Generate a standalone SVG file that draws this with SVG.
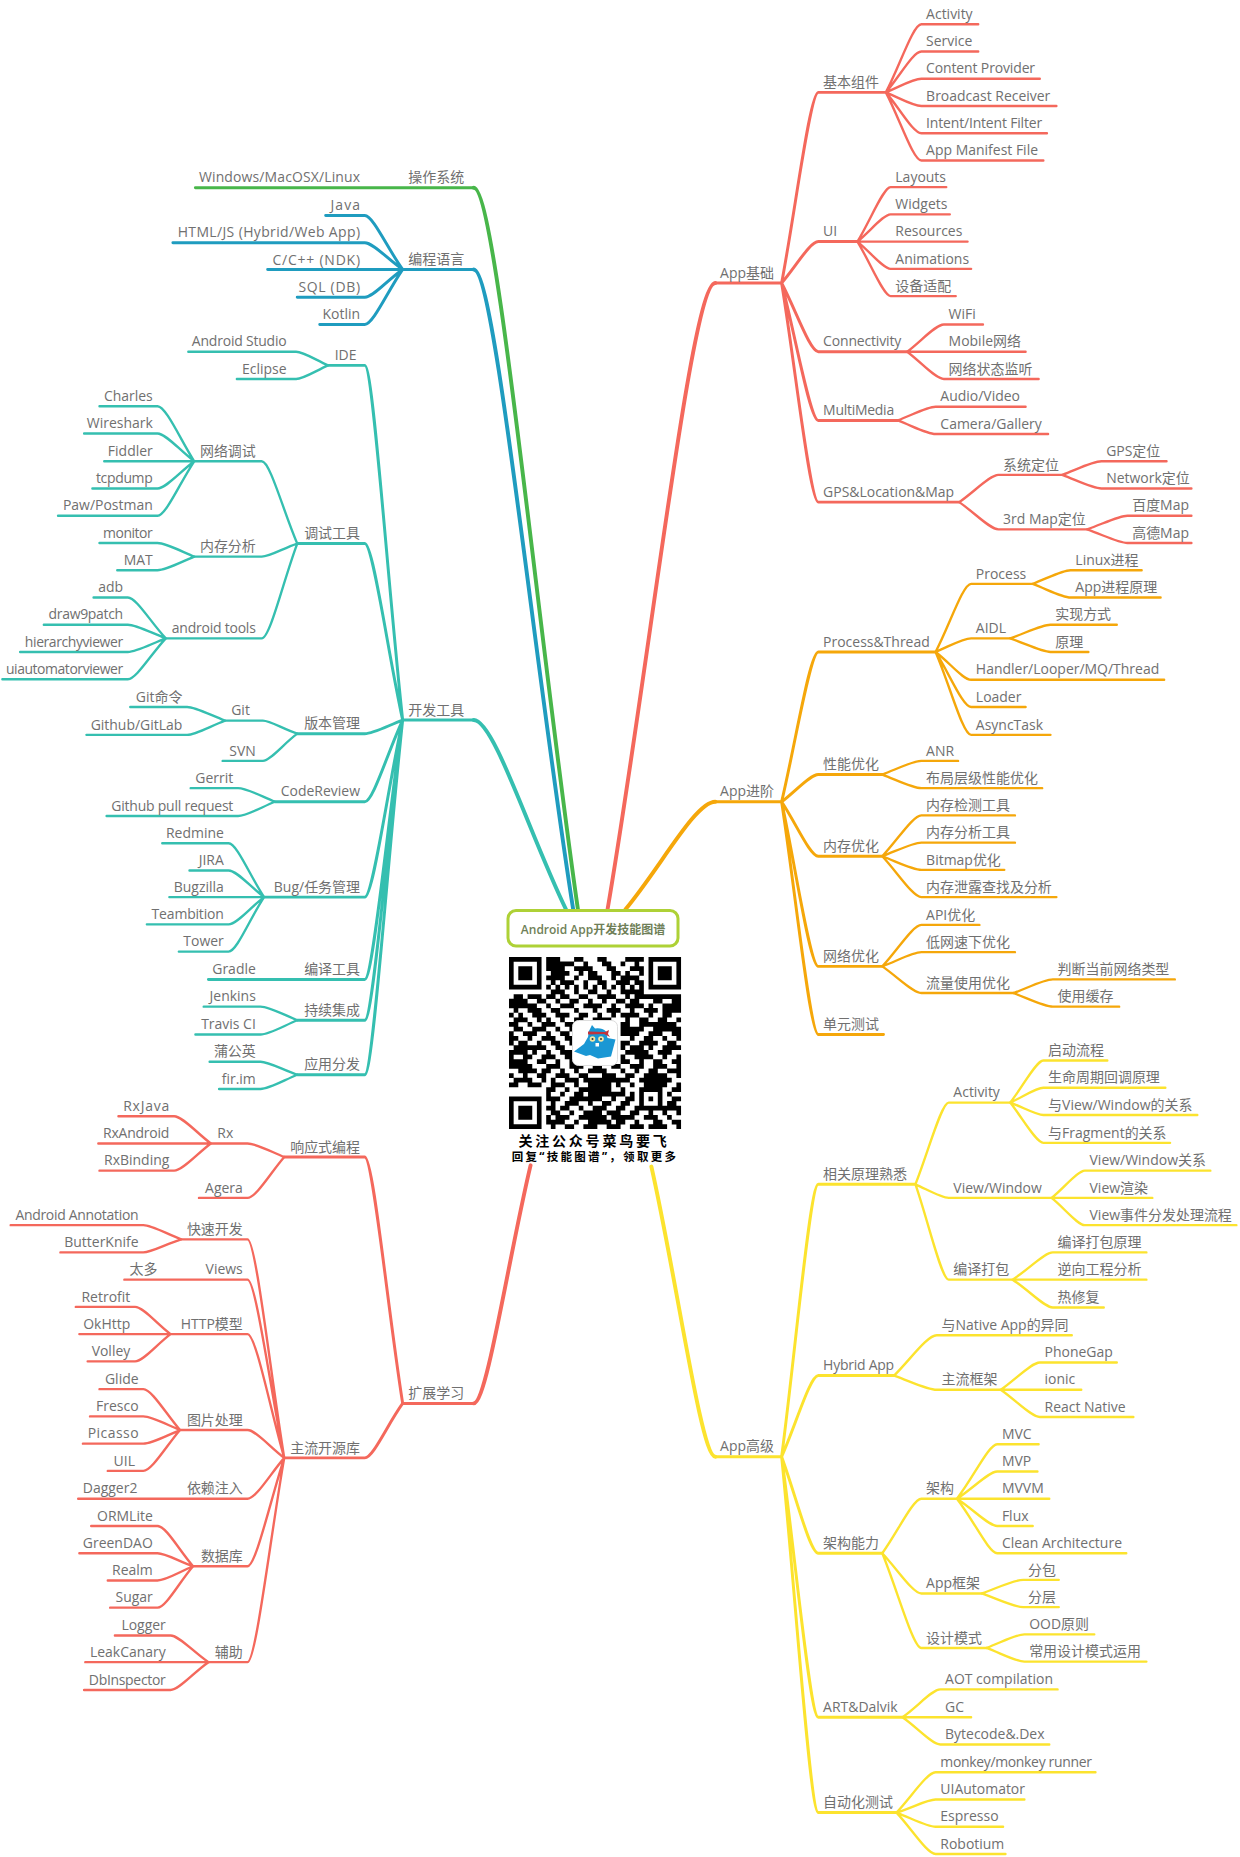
<svg xmlns="http://www.w3.org/2000/svg" width="1240" height="1857" viewBox="0 0 1240 1857">
<style>
text{font-family:"Open Sans","Noto Sans CJK SC",sans-serif;font-size:11.8px;fill:#707070}
.e{text-anchor:end}
#connectors path{fill:none;stroke-linecap:round;stroke-linejoin:round}
.w0 path{stroke-width:3.3}
.w1 path{stroke-width:2.5}
.w2 path{stroke-width:2.5}
.w3 path{stroke-width:2}
.r{stroke:#f4685c}.o{stroke:#f5a70a}.y{stroke:#fce32e}.g{stroke:#48b64a}.b{stroke:#1f9cbf}.t{stroke:#35bfb0}
</style>
<rect width="1240" height="1857" fill="#fff"/>
<g transform="scale(1.1843)">
<g id="connectors">
<g class="w3 r">
<path d="M748 78c12 -23 23 -57.5 30 -57.5H826M748 78c12 -14 23 -34.5 30 -34.5H826M748 78c12 -5 23 -11.5 30 -11.5H878M748 78c12 5 23 11.5 30 11.5H892M748 78c12 14 23 34.5 30 34.5H884M748 78c12 23 23 57.5 30 57.5H881"/>
<path d="M724 204c11 -18 22 -46 28 -46H799M724 204c11 -9 22 -23 28 -23H802M724 204H817M724 204c11 9 22 23 28 23H820M724 204c11 18 22 46 28 46H807"/>
<path d="M766 297c12 -9 24 -23 31 -23H830M766 297H866M766 297c12 9 24 23 31 23H877"/>
<path d="M758 355c13 -5 25 -11.5 32 -11.5H866M758 355c13 5 25 11.5 32 11.5H885"/>
<path d="M810 424c13 -9 26 -23 33 -23H897M810 424c13 9 26 23 33 23H918"/>
<path d="M897 401c13 -5 26 -11.5 33 -11.5H985M897 401c13 5 26 11.5 33 11.5H1006"/>
<path d="M918 447c14 -5 27 -11.5 34 -11.5H1006M918 447c14 5 27 11.5 34 11.5H1006"/>
<path d="M240 977c-12 -5 -24 -11.5 -31 -11.5H178M240 977c-12 14 -24 34.5 -31 34.5H168"/>
<path d="M178 965.500c-12 -9 -24 -23 -31 -23H100M178 965.500H83M178 965.500c-12 9 -24 23 -31 23H84"/>
<path d="M240 1231c-12 -74 -24 -184.500 -31 -184.500H153M240 1231c-12 -60 -24 -150.500 -31 -150.500H105M240 1231c-12 -42 -24 -104.500 -31 -104.500H144M240 1231c-12 -9 -24 -23.500 -31 -23.500H152M240 1231c-12 14 -24 34.500 -31 34.500H66M240 1231c-12 37 -24 91.500 -31 91.500H163M240 1231c-12 69 -24 172.500 -31 172.500H176"/>
<path d="M153 1046.500c-13 -5 -25 -12 -32 -12H9M153 1046.500c-13 4 -25 11 -32 11H51"/>
<path d="M144 1126.500c-12 -9 -23 -23 -30 -23H64M144 1126.500H67M144 1126.500c-12 9 -23 23 -30 23H74"/>
<path d="M152 1207.500c-12 -14 -24 -34.500 -31 -34.500H84M152 1207.500c-12 -5 -24 -11.500 -31 -11.500H76M152 1207.500c-12 5 -24 11.500 -31 11.500H70M152 1207.500c-12 14 -24 34.500 -31 34.500H91"/>
<path d="M163 1322.500c-12 -14 -23 -34 -30 -34H77M163 1322.500c-12 -4 -23 -11 -30 -11H67M163 1322.500c-12 5 -23 12 -30 12H91M163 1322.500c-12 14 -23 35 -30 35H93"/>
<path d="M176 1403.500c-13 -9 -25 -22.500 -32 -22.500H97M176 1403.500H72M176 1403.500c-13 9 -25 23.500 -32 23.500H71"/>
</g>
<g class="w3 o">
<path d="M790 550.500c12 -23 23 -57.500 30 -57.500H872M790 550.500c12 -5 23 -11.500 30 -11.500H853M790 550.500c12 9 23 23.500 30 23.500H983M790 550.500c12 19 23 46.500 30 46.500H866M790 550.500c12 28 23 70 30 70H887"/>
<path d="M872 493c13 -5 25 -11.500 32 -11.500H964M872 493c13 5 25 11.500 32 11.500H980"/>
<path d="M853 539c14 -5 27 -11.500 34 -11.500H943M853 539c14 5 27 11.500 34 11.500H919"/>
<path d="M745 654c13 -5 26 -11.500 33 -11.500H809M745 654c13 5 26 11.500 33 11.500H880"/>
<path d="M745 723c13 -14 26 -34.500 33 -34.500H857M745 723c13 -5 26 -11.500 33 -11.500H857M745 723c13 5 26 11.500 33 11.500H848M745 723c13 14 26 34.500 33 34.500H892"/>
<path d="M745 816c13 -14 26 -35 33 -35H827M745 816c13 -5 26 -12 33 -12H857M745 816c13 9 26 22.500 33 22.500H856"/>
<path d="M856 838.500c13 -5 26 -11.500 33 -11.500H992M856 838.500c13 5 26 11.500 33 11.500H945"/>
</g>
<g class="w3 y">
<path d="M773 1000c11 -28 22 -69 28 -69H853M773 1000c11 5 22 11.500 28 11.500H888M773 1000c11 32 22 80.500 28 80.500H855"/>
<path d="M853 931c11 -14 22 -35.500 28 -35.500H935M853 931c11 -5 22 -12.500 28 -12.500H984M853 931c11 4 22 10.500 28 10.500H1011M853 931c11 14 22 34 28 34H988"/>
<path d="M888 1011.500c11 -9 22 -23 28 -23H1022M888 1011.500H973M888 1011.500c11 9 22 23 28 23H1044"/>
<path d="M855 1080.500c14 -9 27 -23 34 -23H968M855 1080.500H968M855 1080.500c14 9 27 23.500 34 23.500H932"/>
<path d="M755 1161.500c14 -14 28 -34 36 -34H905M755 1161.500c14 5 28 12 36 12H845"/>
<path d="M845 1173.500c13 -9 26 -23 33 -23H943M845 1173.500H913M845 1173.500c13 9 26 23 33 23H957"/>
<path d="M745 1311.500c13 -18 26 -46 33 -46H808M745 1311.500c13 14 26 34 33 34H829M745 1311.500c13 32 26 80 33 80H833"/>
<path d="M808 1265.500c14 -18 27 -46 34 -46H877M808 1265.500c14 -9 27 -23 34 -23H876M808 1265.500H886M808 1265.500c14 9 27 23 34 23H872M808 1265.500c14 18 27 46 34 46H951"/>
<path d="M829 1345.500c14 -5 27 -11.500 35 -11.500H894M829 1345.500c14 5 27 11.500 35 11.500H894"/>
<path d="M833 1391.500c13 -5 25 -11.500 32 -11.500H924M833 1391.500c13 5 25 11.500 32 11.500H968"/>
<path d="M762 1450c13 -9 25 -23.500 32 -23.500H893M762 1450H820M762 1450c13 9 25 23 32 23H886"/>
<path d="M757 1530.500c13 -14 26 -34 33 -34H925M757 1530.500c13 -4 26 -11 33 -11H865M757 1530.500c13 5 26 12 33 12H847M757 1530.500c13 14 26 35 33 35H849"/>
</g>
<g class="w3 t">
<path d="M277 308.500c-11 -5 -21 -11.500 -27 -11.500H159M277 308.500c-11 5 -21 11.500 -27 11.500H200"/>
<path d="M251 459c-12 -28 -23 -69.500 -30 -69.500H164M251 459c-12 4 -23 11 -30 11H164M251 459c-12 32 -23 80 -30 80H140"/>
<path d="M164 389.500c-12 -19 -24 -46.500 -31 -46.500H84M164 389.500c-12 -9 -24 -23.500 -31 -23.500H71M164 389.500H88M164 389.500c-12 9 -24 23 -31 23H78M164 389.500c-12 18 -24 46 -31 46H49"/>
<path d="M164 470c-12 -5 -24 -11.500 -31 -11.500H84M164 470c-12 5 -24 11.500 -31 11.500H99"/>
<path d="M140 539c-13 -14 -25 -34.500 -32 -34.500H79M140 539c-13 -5 -25 -11.500 -32 -11.500H37M140 539c-13 5 -25 11.500 -32 11.500H17M140 539c-13 14 -25 34.500 -32 34.500H2"/>
<path d="M251 619.500c-12 -4 -23 -11 -29 -11H190M251 619.500c-12 9 -23 23 -29 23H188"/>
<path d="M190 608.500c-13 -5 -25 -11.500 -32 -11.500H110M190 608.500c-13 5 -25 12 -32 12H73"/>
<path d="M232 677c-12 -5 -24 -11.500 -31 -11.500H161M232 677c-12 5 -24 12 -31 12H90"/>
<path d="M223 757.500c-12 -18 -23 -45.500 -30 -45.500H137M223 757.500c-12 -9 -23 -22.500 -30 -22.500H160M223 757.500H143M223 757.500c-12 9 -23 23 -30 23H124M223 757.500c-12 18 -23 46 -30 46H151"/>
<path d="M251 861.500c-12 -5 -24 -11.500 -31 -11.500H172M251 861.500c-12 5 -24 12 -31 12H165"/>
<path d="M251 907.500c-12 -4 -24 -11 -31 -11H177M251 907.500c-12 5 -24 12 -31 12H185"/>
</g>
<g class="w2 b">
<path d="M340 227.500c-13 -18 -25 -45.500 -32 -45.500H275M340 227.500c-13 -9 -25 -22.500 -32 -22.500H146M340 227.500H226M340 227.500c-13 9 -25 23.500 -32 23.500H251M340 227.500c-13 19 -25 46.500 -32 46.500H270"/>
</g>
<g class="w1 t">
<path d="M340 608c-13 -120 -25 -299.500 -32 -299.500H277M340 608c-13 -60 -25 -149 -32 -149H251M340 608c-13 5 -25 11.500 -32 11.500H251M340 608c-13 28 -25 69 -32 69H232M340 608c-13 60 -25 149.500 -32 149.500H223M340 608c-13 88 -25 219 -32 219H176M340 608c-13 101 -25 253.500 -32 253.500H251M340 608c-13 120 -25 299.500 -32 299.500H251"/>
</g>
<g class="w1 r">
<path d="M660 239c12 -64 24 -161 31 -161H748M660 239c12 -14 24 -35 31 -35H724M660 239c12 23 24 58 31 58H766M660 239c12 46 24 116 31 116H758M660 239c12 74 24 185 31 185H810"/>
<path d="M340 1185c-13 -83 -25 -208 -32 -208H240M340 1185c-13 18 -25 46 -32 46H240"/>
</g>
<g class="w1 o">
<path d="M660 677c12 -51 24 -126.500 31 -126.500H790M660 677c12 -9 24 -23 31 -23H745M660 677c12 18 24 46 31 46H745M660 677c12 56 24 139 31 139H745M660 677c12 79 24 196.500 31 196.500H746"/>
</g>
<g class="w1 y">
<path d="M660 1230c12 -92 24 -230 31 -230H773M660 1230c12 -27 24 -68.500 31 -68.500H755M660 1230c12 33 24 81.500 31 81.500H745M660 1230c12 88 24 220 31 220H762M660 1230c12 120 24 300.500 31 300.500H757"/>
</g>
<g class="w1">
<path class="t" d="M400 608H340"/>
<path class="b" d="M400 227.500H340"/>
<path class="g" d="M400 158.500H165"/>
<path class="r" d="M604 239H660"/>
<path class="o" d="M604 677H660"/>
<path class="y" d="M604 1230H660"/>
<path class="r" d="M400 1185H340"/>
</g>
<g class="w0">
<path class="t" d="M478 768c-31 -64 -61 -160 -78 -160"/>
<path class="b" d="M484 768c-34 -216 -66 -540.500 -84 -540.500"/>
<path class="g" d="M488 768c-35 -244 -69 -609.500 -88 -609.500"/>
<path class="r" d="M513 768c36 -212 71 -529 91 -529"/>
<path class="o" d="M528 768c30 -36 59 -91 76 -91"/>
<path class="y" d="M550 985c22 98 42 245 54 245"/>
<path class="r" d="M448 984c-19 80 -37 201 -48 201"/>
</g>
</g>
<g id="nodes-right">
<g id="n-app-basic"><text x="608" y="234.500">App基础</text></g>
<g id="n-app-adv"><text x="608" y="672.500">App进阶</text></g>
<g id="n-app-high"><text x="608" y="1225.500">App高级</text></g>
<g id="n-comp"><text x="695" y="73.500">基本组件</text></g>
<g id="n-activity"><text x="782" y="16">Activity</text></g>
<g id="n-service"><text x="782" y="39">Service</text></g>
<g id="n-cp"><text x="782" y="62" textLength="92">Content Provider</text></g>
<g id="n-br"><text x="782" y="85">Broadcast Receiver</text></g>
<g id="n-intent"><text x="782" y="108" textLength="98">Intent/Intent Filter</text></g>
<g id="n-manifest"><text x="782" y="131">App Manifest File</text></g>
<g id="n-ui"><text x="695" y="199.500">UI</text></g>
<g id="n-layouts"><text x="756" y="153.500">Layouts</text></g>
<g id="n-widgets"><text x="756" y="176.500">Widgets</text></g>
<g id="n-resources"><text x="756" y="199.500">Resources</text></g>
<g id="n-animations"><text x="756" y="222.500">Animations</text></g>
<g id="n-adapt"><text x="756" y="245.500">设备适配</text></g>
<g id="n-conn"><text x="695" y="292.500" textLength="66">Connectivity</text></g>
<g id="n-wifi"><text x="801" y="269.500">WiFi</text></g>
<g id="n-mobile"><text x="801" y="292.500">Mobile网络</text></g>
<g id="n-netstate"><text x="801" y="315.500">网络状态监听</text></g>
<g id="n-mm"><text x="695" y="350.500" textLength="60">MultiMedia</text></g>
<g id="n-audio"><text x="794" y="339">Audio/Video</text></g>
<g id="n-camera"><text x="794" y="362">Camera/Gallery</text></g>
<g id="n-gps"><text x="695" y="419.500">GPS&amp;Location&amp;Map</text></g>
<g id="n-sysloc"><text x="847" y="396.500">系统定位</text></g>
<g id="n-gpsloc"><text x="934" y="385">GPS定位</text></g>
<g id="n-netloc"><text x="934" y="408">Network定位</text></g>
<g id="n-3rd"><text x="847" y="442.500">3rd Map定位</text></g>
<g id="n-baidu"><text x="956" y="431">百度Map</text></g>
<g id="n-gaode"><text x="956" y="454">高德Map</text></g>
<g id="n-pt"><text x="695" y="546">Process&amp;Thread</text></g>
<g id="n-process"><text x="824" y="488.500">Process</text></g>
<g id="n-linux"><text x="908" y="477">Linux进程</text></g>
<g id="n-appproc"><text x="908" y="500">App进程原理</text></g>
<g id="n-aidl"><text x="824" y="534.500">AIDL</text></g>
<g id="n-impl"><text x="891" y="523">实现方式</text></g>
<g id="n-principle"><text x="891" y="546">原理</text></g>
<g id="n-handler"><text x="824" y="569.500">Handler/Looper/MQ/Thread</text></g>
<g id="n-loader"><text x="824" y="592.500">Loader</text></g>
<g id="n-async"><text x="824" y="616">AsyncTask</text></g>
<g id="n-perf"><text x="695" y="649.500">性能优化</text></g>
<g id="n-anr"><text x="782" y="638">ANR</text></g>
<g id="n-layoutperf"><text x="782" y="661">布局层级性能优化</text></g>
<g id="n-mem"><text x="695" y="718.500">内存优化</text></g>
<g id="n-memtool"><text x="782" y="684">内存检测工具</text></g>
<g id="n-memana"><text x="782" y="707">内存分析工具</text></g>
<g id="n-bitmap"><text x="782" y="730">Bitmap优化</text></g>
<g id="n-leak"><text x="782" y="753">内存泄露查找及分析</text></g>
<g id="n-net"><text x="695" y="811.500">网络优化</text></g>
<g id="n-api"><text x="782" y="776.500">API优化</text></g>
<g id="n-lownet"><text x="782" y="799.500">低网速下优化</text></g>
<g id="n-traffic"><text x="782" y="834">流量使用优化</text></g>
<g id="n-nettype"><text x="893" y="822.500">判断当前网络类型</text></g>
<g id="n-cache"><text x="893" y="845.500">使用缓存</text></g>
<g id="n-unit"><text x="695" y="869">单元测试</text></g>
<g id="n-theory"><text x="695" y="995.500">相关原理熟悉</text></g>
<g id="n-act2"><text x="805" y="926.500">Activity</text></g>
<g id="n-start"><text x="885" y="891">启动流程</text></g>
<g id="n-life"><text x="885" y="914">生命周期回调原理</text></g>
<g id="n-vw"><text x="885" y="937">与View/Window的关系</text></g>
<g id="n-frag"><text x="885" y="960.500">与Fragment的关系</text></g>
<g id="n-viewwin"><text x="805" y="1007">View/Window</text></g>
<g id="n-vwrel"><text x="920" y="984">View/Window关系</text></g>
<g id="n-render"><text x="920" y="1007">View渲染</text></g>
<g id="n-dispatch"><text x="920" y="1030">View事件分发处理流程</text></g>
<g id="n-build"><text x="805" y="1076">编译打包</text></g>
<g id="n-buildp"><text x="893" y="1053">编译打包原理</text></g>
<g id="n-reverse"><text x="893" y="1076">逆向工程分析</text></g>
<g id="n-hotfix"><text x="893" y="1099.500">热修复</text></g>
<g id="n-hybrid"><text x="695" y="1157" textLength="60">Hybrid App</text></g>
<g id="n-native"><text x="795" y="1123">与Native App的异同</text></g>
<g id="n-framework"><text x="795" y="1169">主流框架</text></g>
<g id="n-phonegap"><text x="882" y="1146">PhoneGap</text></g>
<g id="n-ionic"><text x="882" y="1169">ionic</text></g>
<g id="n-rn"><text x="882" y="1192">React Native</text></g>
<g id="n-archab"><text x="695" y="1307">架构能力</text></g>
<g id="n-arch"><text x="782" y="1261">架构</text></g>
<g id="n-mvc"><text x="846" y="1215">MVC</text></g>
<g id="n-mvp"><text x="846" y="1238">MVP</text></g>
<g id="n-mvvm"><text x="846" y="1261">MVVM</text></g>
<g id="n-flux"><text x="846" y="1284">Flux</text></g>
<g id="n-clean"><text x="846" y="1307">Clean Architecture</text></g>
<g id="n-appfw"><text x="782" y="1341">App框架</text></g>
<g id="n-pack"><text x="868" y="1329.500">分包</text></g>
<g id="n-tier"><text x="868" y="1352.500">分层</text></g>
<g id="n-pattern"><text x="782" y="1387">设计模式</text></g>
<g id="n-ood"><text x="869" y="1375.500">OOD原则</text></g>
<g id="n-usep"><text x="869" y="1398.500">常用设计模式运用</text></g>
<g id="n-art"><text x="695" y="1445.500">ART&amp;Dalvik</text></g>
<g id="n-aot"><text x="798" y="1422">AOT compilation</text></g>
<g id="n-gc"><text x="798" y="1445.500">GC</text></g>
<g id="n-dex"><text x="798" y="1468.500">Bytecode&amp;.Dex</text></g>
<g id="n-auto"><text x="695" y="1526">自动化测试</text></g>
<g id="n-monkey"><text x="794" y="1492" textLength="128">monkey/monkey runner</text></g>
<g id="n-uiauto"><text x="794" y="1515">UIAutomator</text></g>
<g id="n-espresso"><text x="794" y="1538">Espresso</text></g>
<g id="n-robotium"><text x="794" y="1561">Robotium</text></g>
</g>
<g id="nodes-left">
<g id="n-os"><text class="e" x="392" y="154">操作系统</text></g>
<g id="n-win"><text class="e" x="304" y="154" textLength="136">Windows/MacOSX/Linux</text></g>
<g id="n-lang"><text class="e" x="392" y="223">编程语言</text></g>
<g id="n-java"><text class="e" x="304" y="177.500" textLength="25">Java</text></g>
<g id="n-html"><text class="e" x="304" y="200.500" textLength="154">HTML/JS (Hybrid/Web App)</text></g>
<g id="n-c"><text class="e" x="304" y="223.500" textLength="74">C/C++ (NDK)</text></g>
<g id="n-sql"><text class="e" x="304" y="246.500" textLength="52">SQL (DB)</text></g>
<g id="n-kotlin"><text class="e" x="304" y="269.500">Kotlin</text></g>
<g id="n-tools"><text class="e" x="392" y="603.500">开发工具</text></g>
<g id="n-ide"><text class="e" x="301" y="304">IDE</text></g>
<g id="n-as"><text class="e" x="242" y="292.500" textLength="80">Android Studio</text></g>
<g id="n-eclipse"><text class="e" x="242" y="315.500">Eclipse</text></g>
<g id="n-debug"><text class="e" x="304" y="454.500">调试工具</text></g>
<g id="n-netdbg"><text class="e" x="216" y="385">网络调试</text></g>
<g id="n-charles"><text class="e" x="129" y="338.500">Charles</text></g>
<g id="n-wire"><text class="e" x="129" y="361.500">Wireshark</text></g>
<g id="n-fiddler"><text class="e" x="129" y="385">Fiddler</text></g>
<g id="n-tcp"><text class="e" x="129" y="408" textLength="48">tcpdump</text></g>
<g id="n-paw"><text class="e" x="129" y="431">Paw/Postman</text></g>
<g id="n-memdbg"><text class="e" x="216" y="465.500">内存分析</text></g>
<g id="n-monitor"><text class="e" x="129" y="454" textLength="42">monitor</text></g>
<g id="n-mat"><text class="e" x="129" y="477">MAT</text></g>
<g id="n-atools"><text class="e" x="216" y="534.500" textLength="71">android tools</text></g>
<g id="n-adb"><text class="e" x="104" y="500">adb</text></g>
<g id="n-draw9"><text class="e" x="104" y="523" textLength="63">draw9patch</text></g>
<g id="n-hier"><text class="e" x="104" y="546" textLength="83">hierarchyviewer</text></g>
<g id="n-uia"><text class="e" x="104" y="569" textLength="99">uiautomatorviewer</text></g>
<g id="n-vcs"><text class="e" x="304" y="615">版本管理</text></g>
<g id="n-git"><text class="e" x="211" y="604">Git</text></g>
<g id="n-gitcmd"><text class="e" x="154" y="592.500">Git命令</text></g>
<g id="n-github"><text class="e" x="154" y="616">Github/GitLab</text></g>
<g id="n-svn"><text class="e" x="216" y="638">SVN</text></g>
<g id="n-cr"><text class="e" x="304" y="672.500">CodeReview</text></g>
<g id="n-gerrit"><text class="e" x="197" y="661">Gerrit</text></g>
<g id="n-pr"><text class="e" x="197" y="684.500" textLength="103">Github pull request</text></g>
<g id="n-bug"><text class="e" x="304" y="753">Bug/任务管理</text></g>
<g id="n-redmine"><text class="e" x="189" y="707.500">Redmine</text></g>
<g id="n-jira"><text class="e" x="189" y="730.500">JIRA</text></g>
<g id="n-bugzilla"><text class="e" x="189" y="753">Bugzilla</text></g>
<g id="n-team"><text class="e" x="189" y="776" textLength="61">Teambition</text></g>
<g id="n-tower"><text class="e" x="189" y="799">Tower</text></g>
<g id="n-compile"><text class="e" x="304" y="822.500">编译工具</text></g>
<g id="n-gradle"><text class="e" x="216" y="822.500">Gradle</text></g>
<g id="n-ci"><text class="e" x="304" y="857">持续集成</text></g>
<g id="n-jenkins"><text class="e" x="216" y="845.500">Jenkins</text></g>
<g id="n-travis"><text class="e" x="216" y="869">Travis CI</text></g>
<g id="n-dist"><text class="e" x="304" y="903">应用分发</text></g>
<g id="n-pgy"><text class="e" x="216" y="892">蒲公英</text></g>
<g id="n-fir"><text class="e" x="216" y="915">fir.im</text></g>
<g id="n-ext"><text class="e" x="392" y="1180.500">扩展学习</text></g>
<g id="n-reactive"><text class="e" x="304" y="972.500">响应式编程</text></g>
<g id="n-rx"><text class="e" x="197" y="961">Rx</text></g>
<g id="n-rxjava"><text class="e" x="143" y="938" textLength="39">RxJava</text></g>
<g id="n-rxandroid"><text class="e" x="143" y="961" textLength="56">RxAndroid</text></g>
<g id="n-rxbinding"><text class="e" x="143" y="984">RxBinding</text></g>
<g id="n-agera"><text class="e" x="205" y="1007">Agera</text></g>
<g id="n-oss"><text class="e" x="304" y="1226.500">主流开源库</text></g>
<g id="n-fast"><text class="e" x="205" y="1042">快速开发</text></g>
<g id="n-anno"><text class="e" x="117" y="1030" textLength="104">Android Annotation</text></g>
<g id="n-butter"><text class="e" x="117" y="1053">ButterKnife</text></g>
<g id="n-views"><text class="e" x="205" y="1076">Views</text></g>
<g id="n-many"><text class="e" x="133" y="1076">太多</text></g>
<g id="n-http"><text class="e" x="205" y="1122">HTTP模型</text></g>
<g id="n-retrofit"><text class="e" x="110" y="1099">Retrofit</text></g>
<g id="n-okhttp"><text class="e" x="110" y="1122">OkHttp</text></g>
<g id="n-volley"><text class="e" x="110" y="1145">Volley</text></g>
<g id="n-image"><text class="e" x="205" y="1203">图片处理</text></g>
<g id="n-glide"><text class="e" x="117" y="1168.500">Glide</text></g>
<g id="n-fresco"><text class="e" x="117" y="1191.500">Fresco</text></g>
<g id="n-picasso"><text class="e" x="117" y="1214.500" textLength="43">Picasso</text></g>
<g id="n-uil"><text class="e" x="114" y="1237.500">UIL</text></g>
<g id="n-di"><text class="e" x="205" y="1261">依赖注入</text></g>
<g id="n-dagger"><text class="e" x="116" y="1261">Dagger2</text></g>
<g id="n-db"><text class="e" x="205" y="1318">数据库</text></g>
<g id="n-orm"><text class="e" x="129" y="1284">ORMLite</text></g>
<g id="n-green"><text class="e" x="129" y="1307">GreenDAO</text></g>
<g id="n-realm"><text class="e" x="129" y="1330">Realm</text></g>
<g id="n-sugar"><text class="e" x="129" y="1353">Sugar</text></g>
<g id="n-assist"><text class="e" x="205" y="1399">辅助</text></g>
<g id="n-logger"><text class="e" x="140" y="1376.500">Logger</text></g>
<g id="n-canary"><text class="e" x="140" y="1399">LeakCanary</text></g>
<g id="n-dbi"><text class="e" x="140" y="1422.500" textLength="65">DbInspector</text></g>
</g>
</g>
<g id="root">
<rect x="508" y="910.500" width="170" height="35.500" rx="8" fill="#fff" stroke="#aed136" stroke-width="3"/>
<text x="593" y="933.500" text-anchor="middle" style="font-size:12px;font-weight:600;fill:#6f7f58">Android App开发技能图谱</text>
<g id="qr" transform="translate(509 957) scale(4.65)">
<path fill="none" stroke="#000" stroke-width="1.02" d="M0 .5H7M8 .5H11M14 .5H16M19 .5H21M25 .5H29M30 .5H37M0 1.500H1M6 1.500H7M8 1.500H10M12 1.500H14M16 1.500H17M20 1.500H22M24 1.500H25M27 1.500H28M30 1.500H31M36 1.500H37M0 2.500H1M2 2.500H5M6 2.500H7M8 2.500H9M11 2.500H12M14 2.500H18M21 2.500H23M26 2.500H29M30 2.500H31M32 2.500H35M36 2.500H37M0 3.500H1M2 3.500H5M6 3.500H7M9 3.500H13M15 3.500H16M18 3.500H19M22 3.500H24M25 3.500H26M28 3.500H29M30 3.500H31M32 3.500H35M36 3.500H37M0 4.500H1M2 4.500H5M6 4.500H7M8 4.500H12M14 4.500H15M17 4.500H20M22 4.500H23M24 4.500H28M30 4.500H31M32 4.500H35M36 4.500H37M0 5.500H1M6 5.500H7M9 5.500H10M11 5.500H14M16 5.500H17M19 5.500H21M23 5.500H26M27 5.500H29M30 5.500H31M36 5.500H37M0 6.500H7M8 6.500H9M10 6.500H11M12 6.500H13M14 6.500H15M16 6.500H17M18 6.500H19M20 6.500H21M22 6.500H23M24 6.500H25M26 6.500H27M28 6.500H29M30 6.500H37M9 7.500H12M14 7.500H15M17 7.500H19M21 7.500H22M24 7.500H27M28 7.500H29M1 8.500H3M4 8.500H7M8 8.500H10M11 8.500H13M15 8.500H17M19 8.500H23M25 8.500H26M27 8.500H31M33 8.500H37M0 9.500H1M3 9.500H4M6 9.500H8M10 9.500H11M13 9.500H15M17 9.500H18M20 9.500H21M23 9.500H25M26 9.500H28M31 9.500H33M35 9.500H37M0 10.500H4M5 10.500H6M8 10.500H9M11 10.500H14M16 10.500H20M22 10.500H23M25 10.500H29M30 10.500H31M33 10.500H34M36 10.500H37M1 11.500H2M4 11.500H7M9 11.500H11M14 11.500H15M18 11.500H19M21 11.500H24M26 11.500H27M29 11.500H32M34 11.500H37M0 12.500H1M2 12.500H3M5 12.500H8M10 12.500H13M15 12.500H17M19 12.500H20M22 12.500H23M24 12.500H28M30 12.500H31M33 12.500H35M1 13.500H4M6 13.500H7M8 13.500H9M11 13.500H12M14 13.500H16M18 13.500H22M25 13.500H26M28 13.500H30M32 13.500H34M36 13.500H37M0 14.500H2M4 14.500H5M7 14.500H10M12 14.500H14M24 14.500H26M28 14.500H31M33 14.500H36M1 15.500H3M5 15.500H8M10 15.500H11M13 15.500H14M24 15.500H25M27 15.500H29M31 15.500H32M34 15.500H37M0 16.500H1M3 16.500H6M8 16.500H9M11 16.500H13M24 16.500H28M30 16.500H33M35 16.500H37M0 17.500H2M4 17.500H5M7 17.500H10M12 17.500H14M26 17.500H27M29 17.500H31M33 17.500H34M36 17.500H37M0 18.500H1M2 18.500H4M6 18.500H7M9 18.500H11M13 18.500H14M24 18.500H26M28 18.500H32M34 18.500H36M1 19.500H2M4 19.500H8M10 19.500H12M24 19.500H25M27 19.500H28M30 19.500H31M33 19.500H37M0 20.500H3M5 20.500H6M8 20.500H9M11 20.500H14M25 20.500H28M29 20.500H30M32 20.500H35M0 21.500H1M3 21.500H5M7 21.500H10M12 21.500H14M24 21.500H25M27 21.500H31M33 21.500H34M36 21.500H37M1 22.500H4M6 22.500H8M10 22.500H11M13 22.500H14M24 22.500H26M28 22.500H29M31 22.500H33M35 22.500H37M0 23.500H2M4 23.500H5M8 23.500H11M13 23.500H16M18 23.500H20M22 23.500H24M26 23.500H29M31 23.500H34M36 23.500H37M2 24.500H6M7 24.500H9M11 24.500H12M14 24.500H15M17 24.500H21M24 24.500H25M27 24.500H28M30 24.500H32M34 24.500H37M0 25.500H1M3 25.500H4M6 25.500H8M10 25.500H13M15 25.500H17M20 25.500H23M25 25.500H27M29 25.500H32M33 25.500H34M36 25.500H37M1 26.500H5M7 26.500H8M9 26.500H10M12 26.500H15M16 26.500H18M19 26.500H20M22 26.500H26M28 26.500H30M32 26.500H35M0 27.500H2M4 27.500H7M9 27.500H12M14 27.500H15M17 27.500H21M23 27.500H24M26 27.500H27M29 27.500H34M36 27.500H37M8 28.500H10M12 28.500H13M15 28.500H18M20 28.500H22M24 28.500H25M35 28.500H37M8 29.500H9M11 29.500H12M14 29.500H16M18 29.500H19M21 29.500H25M26 29.500H27M34 29.500H35M0 30.500H7M8 30.500H11M13 30.500H14M16 30.500H20M22 30.500H23M25 30.500H27M35 30.500H37M0 31.500H1M6 31.500H7M9 31.500H10M12 31.500H15M17 31.500H18M20 31.500H22M24 31.500H26M34 31.500H36M0 32.500H1M2 32.500H5M6 32.500H7M8 32.500H10M11 32.500H13M15 32.500H16M18 32.500H21M23 32.500H25M27 32.500H28M33 32.500H37M0 33.500H1M2 33.500H5M6 33.500H7M9 33.500H11M13 33.500H14M16 33.500H19M21 33.500H24M26 33.500H28M30 33.500H31M33 33.500H34M36 33.500H37M0 34.500H1M2 34.500H5M6 34.500H7M8 34.500H9M10 34.500H13M15 34.500H17M19 34.500H20M22 34.500H27M29 34.500H32M34 34.500H35M0 35.500H1M6 35.500H7M8 35.500H12M14 35.500H15M17 35.500H21M23 35.500H25M27 35.500H28M31 35.500H33M35 35.500H37M0 36.500H7M9 36.500H10M12 36.500H14M16 36.500H19M21 36.500H24M26 36.500H29M30 36.500H34M36 36.500H37M17 26.500H22M18 27.500H22M18 28.500H21M17 29.500H21M16 33.500H20M15 34.500H21M17 35.500H22M0 9.500H4M1 10.500H5M1 19.500H4M1 20.500H4M0 22.500H3M1 23.500H4M30 25.500H34M29 26.500H33M30 8.500H34M33 10.500H36M33 11.500H37M9 1.500H12M9 2.500H11M24 15.500H27M24 16.500H27M31 14.500H34M32 15.500H35M26 19.500H29M26 20.500H29M27 7.500H29M17 4.500H19M17 3.500H19M14 30.500H19M28 28.500H33M28 29.500H29M32 29.500H33M28 30.500H29M30 30.500H31M32 30.500H33M28 31.500H29M32 31.500H33M28 32.500H33"/>
</g>
<g id="logo">
<rect x="572.500" y="1020.500" width="45" height="45" rx="6" fill="#fff" stroke="#ddd" stroke-width="1"/>
<path d="M592 1025l3 3.500q7 -1 11 3l1.500 6.500l8 1.500l-4.500 17l-13 2l-8 -3.500l-4 1l-12 -4.500l10 -7.500l4 -7l1 -6z" fill="#1a97d4"/>
<path d="M588 1031.500l17 .5l4 -2l-1 4l2 3l-6 -3l-16 .5z" fill="#c0343c"/>
<circle cx="592.500" cy="1039" r="2.800" fill="#f3e6a6"/>
<circle cx="601" cy="1039" r="2.800" fill="#f3e6a6"/>
<circle cx="592.500" cy="1039" r="1" fill="#333"/>
<circle cx="601" cy="1039" r="1" fill="#333"/>
<rect x="595.500" y="1043" width="3.500" height="3.500" fill="#fff"/>
</g>
<text x="594" y="1146" text-anchor="middle" style="font-size:14px;font-weight:700;fill:#000;letter-spacing:2.800px">关注公众号菜鸟要飞</text>
<text x="595" y="1161" text-anchor="middle" style="font-size:11.500px;font-weight:700;fill:#000;letter-spacing:2.300px">回复“技能图谱”，领取更多</text>
</g>
</svg>
